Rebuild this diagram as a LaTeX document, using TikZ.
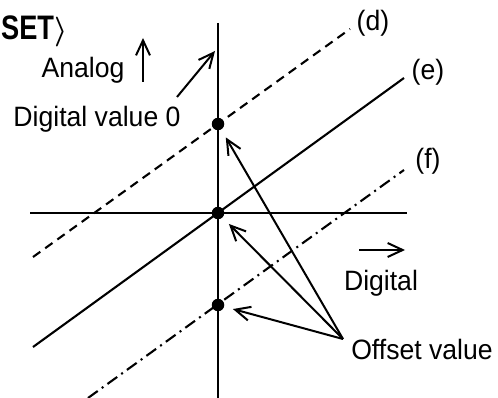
\documentclass[tikz,border=0pt]{standalone}
\usepackage{fontspec}
\usepackage{graphicx}
\setmainfont{Liberation Sans}[FakeStretch=0.95]
\usetikzlibrary{arrows.meta}

\begin{document}
\begin{tikzpicture}[
    x=1pt, y=-1pt,
    axis/.style={line width=2.4pt},
    slope/.style={line width=2.1pt},
    dot/.style={
        circle,
        fill=black,
        inner sep=0pt,
        minimum size=12.5pt
    },
    txt/.style={
        font=\fontsize{28}{32}\selectfont,
        inner sep=0pt,
        anchor=base
    },
    curvename/.style={
        font=\fontsize{28}{32}\selectfont,
        inner sep=0pt
    },
    arrow/.style={
        -{Straight Barb[length=15pt, width=14pt, line width=2pt]},
        line width=2pt
    },
    pointer/.style={
        arrow,
        shorten >=9pt
    }
]

\useasboundingbox (0,0) rectangle (498,398);

\node[font=\fontsize{34}{38}\selectfont\bfseries\boldmath\addfontfeature{FakeStretch=0.8}, inner sep=0pt, anchor=base west] (title) at (1,40) {SET\scalebox{1.2}{$\rangle$}};

% axes
\coordinate (xl) at (30,213);
\coordinate (xr) at (407,213);
\coordinate (yt) at (218,23);
\coordinate (yb) at (218,398);
\draw[axis] (xl) -- (xr);
\draw[axis] (yt) -- (yb);

% the three lines
\coordinate (d1) at (33,257);
\coordinate (d2) at (350,29);
\coordinate (e1) at (33,347);
\coordinate (e2) at (404,78);
\coordinate (f1) at (88,398);
\coordinate (f2) at (404,170);
\draw[slope, dash pattern=on 9pt off 6pt] (d1) -- (d2);
\draw[slope] (e1) -- (e2);
\draw[slope, dash pattern=on 12pt off 5pt on 2pt off 5pt] (f1) -- (f2);

\node[curvename] (dlbl) at (373,23) {(d)};
\node[curvename] (elbl) at (428,72) {(e)};
\node[curvename] (flbl) at (428,161) {(f)};

% points
\node[dot] (pu) at (218,124) {};
\node[dot] (p0) at (218,213) {};
\node[dot] (pl) at (218,305) {};

% texts and direction arrows
\node[txt] (analog) at (83,78) {Analog};
\node[txt] (zero) at (97,127) {Digital value 0};
\node[txt] (digital) at (381,290) {Digital};
\node[txt] (offset) at (422,359) {Offset value};

\coordinate (up1) at (143,82);
\coordinate (up2) at (143,38);
\coordinate (rt1) at (359,250);
\coordinate (rt2) at (405,250);
\coordinate (z1) at (177,97);
\coordinate (z2) at (215,51);
\draw[arrow] (up1) -- (up2);
\draw[arrow] (rt1) -- (rt2);
\draw[arrow] (z1) -- (z2);

\coordinate (src) at (343,339);
\draw[pointer] (src) -- (pu);
\draw[pointer] (src) -- (p0);
\draw[pointer] (src) -- (pl);

\end{tikzpicture}
\end{document}
